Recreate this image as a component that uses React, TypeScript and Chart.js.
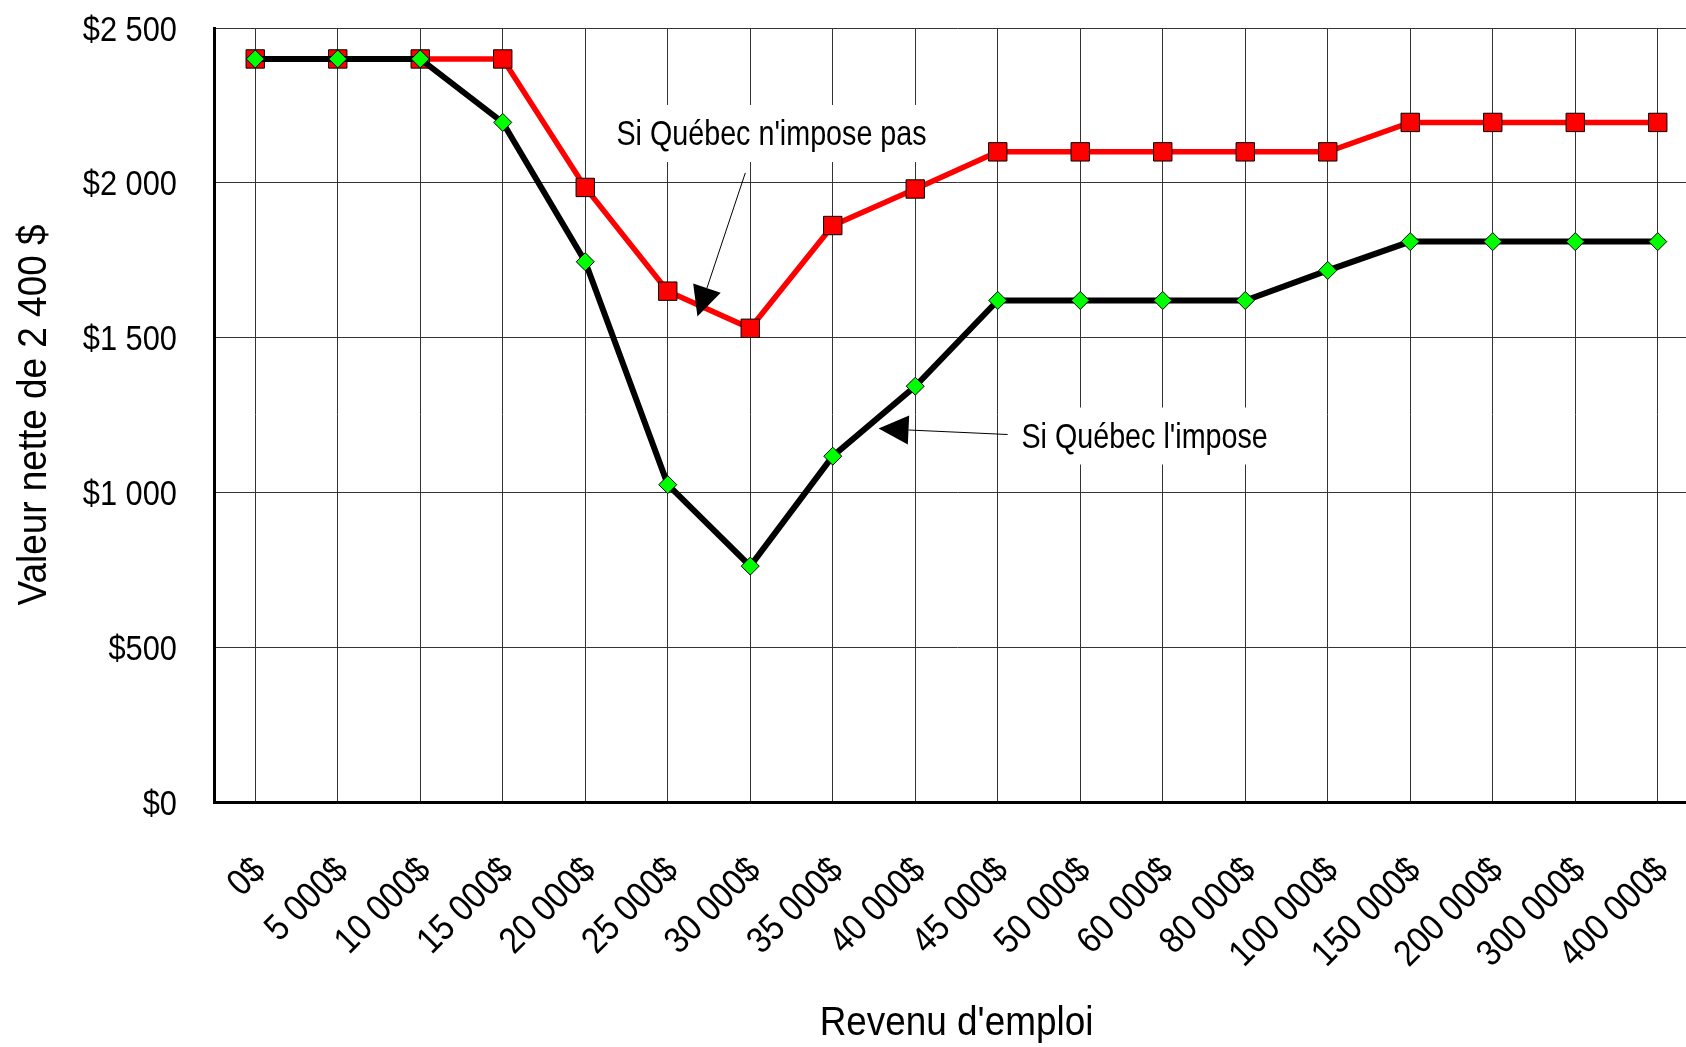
import React, { useEffect, useRef } from 'react';
import { Chart, registerables } from 'chart.js';

Chart.register(...registerables);

const FONT = "'Liberation Sans', Arial, sans-serif";

const categories = [
  '0$', '5 000$', '10 000$', '15 000$', '20 000$', '25 000$', '30 000$', '35 000$', '40 000$',
  '45 000$', '50 000$', '60 000$', '80 000$', '100 000$', '150 000$', '200 000$', '300 000$', '400 000$',
];

// Si Québec l'impose
const seriesImpose = [2400, 2400, 2400, 2195, 1745, 1025, 762, 1117, 1343, 1620, 1620, 1620, 1620, 1717, 1810, 1810, 1810, 1810];
// Si Québec n'impose pas
const seriesNoImpose = [2400, 2400, 2400, 2400, 1985, 1650, 1530, 1862, 1980, 2100, 2100, 2100, 2100, 2100, 2195, 2195, 2195, 2195];

const yMin = 0;
const yMax = 2500;
const yStep = 500;

const yTitle = 'Valeur nette de 2 400 $';
const xTitle = "Revenu d'emploi";

// annotation anchors in data space (category index, value)
const annotationTexts = ["Si Québec n'impose pas", "Si Québec l'impose"];
const annotationTextPos = [[6.258, 2122], [10.78, 1145]];
const annotationArrowFrom = [[5.94, 2032], [9.12, 1187]];
const annotationArrowTo = [[5.36, 1568], [7.555, 1206]];

function fmtMoney(v: number): string {
  if (v >= 1000) {
    return '$' + Math.floor(v / 1000) + ' ' + String(v % 1000).padStart(3, '0');
  }
  return '$' + v;
}

// draws text in a horizontally condensed face (Arial Narrow look)
function narrowText(
  ctx: CanvasRenderingContext2D,
  text: string,
  x: number,
  y: number,
  size: number,
  squeeze: number,
  align: CanvasTextAlign,
  rotation = 0,
) {
  ctx.save();
  ctx.translate(x, y);
  if (rotation) ctx.rotate(rotation);
  ctx.scale(squeeze, 1);
  ctx.font = `${size}px ${FONT}`;
  ctx.fillStyle = '#000000';
  ctx.textAlign = align;
  ctx.textBaseline = 'alphabetic';
  ctx.fillText(text, 0, 0);
  ctx.restore();
}

const textPlugin = {
  id: 'narrowTexts',
  afterDraw(chart: any) {
    const { ctx, chartArea } = chart;
    const xs = chart.scales.x;
    const ys = chart.scales.y;

    // annotations (white boxes hide the grid under the text)
    const aSize = 35;
    const aSq = 0.82;
    for (let i = 0; i < annotationTexts.length; i++) {
      const tx = xs.getPixelForValue(annotationTextPos[i][0]);
      const ty = ys.getPixelForValue(annotationTextPos[i][1]);
      ctx.save();
      ctx.font = `${aSize}px ${FONT}`;
      const w = ctx.measureText(annotationTexts[i]).width * aSq;
      ctx.restore();
      ctx.fillStyle = '#ffffff';
      ctx.fillRect(tx - w / 2 - 16, ty - 40, w + 32, 57);
      narrowText(ctx, annotationTexts[i], tx, ty, aSize, aSq, 'center');

      const x0 = xs.getPixelForValue(annotationArrowFrom[i][0]);
      const y0 = ys.getPixelForValue(annotationArrowFrom[i][1]);
      const x1 = xs.getPixelForValue(annotationArrowTo[i][0]);
      const y1 = ys.getPixelForValue(annotationArrowTo[i][1]);
      const ang = Math.atan2(y1 - y0, x1 - x0);
      const headLen = 30;
      const headHalf = 14.5;
      const bx = x1 - Math.cos(ang) * headLen;
      const by = y1 - Math.sin(ang) * headLen;
      ctx.save();
      ctx.strokeStyle = '#000000';
      ctx.fillStyle = '#000000';
      ctx.lineWidth = 1;
      ctx.beginPath();
      ctx.moveTo(x0, y0);
      ctx.lineTo(bx, by);
      ctx.stroke();
      ctx.beginPath();
      ctx.moveTo(x1, y1);
      ctx.lineTo(bx - Math.sin(ang) * headHalf, by + Math.cos(ang) * headHalf);
      ctx.lineTo(bx + Math.sin(ang) * headHalf, by - Math.cos(ang) * headHalf);
      ctx.closePath();
      ctx.fill();
      ctx.restore();
    }

    // y tick labels
    const ySize = 35;
    ys.ticks.forEach((t: any) => {
      const py = ys.getPixelForValue(t.value);
      narrowText(ctx, fmtMoney(Number(t.value)), ys.right - 37, py + 0.358 * ySize, ySize, 0.88, 'right');
    });

    // x tick labels, rotated 45°
    const xSize = 37;
    categories.forEach((lab, i) => {
      const px = xs.getPixelForTick(i);
      narrowText(ctx, lab, px + 12, xs.top + 70, xSize, 0.88, 'right', -Math.PI / 4);
    });

    // axis titles
    const tSize = 41;
    narrowText(ctx, xTitle, (chartArea.left + chartArea.right) / 2, 1035, tSize, 0.9, 'center');
    narrowText(
      ctx,
      yTitle,
      31 + 0.358 * tSize,
      (chartArea.top + chartArea.bottom) / 2,
      tSize,
      0.9,
      'center',
      -Math.PI / 2,
    );
  },
};

export default function App() {
  const canvasRef = useRef<HTMLCanvasElement | null>(null);

  useEffect(() => {
    const canvas = canvasRef.current;
    if (!canvas) return;
    const chart = new Chart(canvas, {
      type: 'line',
      data: {
        labels: categories,
        datasets: [
          {
            label: "Si Québec l'impose",
            data: seriesImpose,
            borderColor: '#000000',
            backgroundColor: '#00ff00',
            borderWidth: 6,
            tension: 0,
            pointStyle: 'rectRot',
            pointRadius: 9,
            pointBackgroundColor: '#00ff00',
            pointBorderColor: '#000000',
            pointBorderWidth: 1,
          },
          {
            label: "Si Québec n'impose pas",
            data: seriesNoImpose,
            borderColor: '#ff0000',
            backgroundColor: '#ff0000',
            borderWidth: 5.5,
            tension: 0,
            pointStyle: 'rect',
            pointRadius: 13,
            pointBackgroundColor: '#ff0000',
            pointBorderColor: '#000000',
            pointBorderWidth: 1,
          },
        ],
      },
      options: {
        responsive: false,
        animation: false,
        events: [],
        layout: { padding: { top: 28, right: 21, left: 0, bottom: 0 } },
        plugins: {
          legend: { display: false },
          tooltip: { enabled: false },
        },
        scales: {
          x: {
            offset: true,
            grid: { color: '#333333', lineWidth: 1, drawTicks: false },
            border: { color: '#000000', width: 3 },
            ticks: { display: false, autoSkip: false },
            title: { display: false },
            afterFit: (s: any) => {
              s.height = 245;
            },
          },
          y: {
            min: yMin,
            max: yMax,
            grid: { color: '#333333', lineWidth: 1, drawTicks: false },
            border: { color: '#000000', width: 3 },
            ticks: { display: false, stepSize: yStep },
            title: { display: false },
            afterFit: (s: any) => {
              s.width = 214;
            },
          },
        },
      },
      plugins: [textPlugin],
    });
    return () => chart.destroy();
  }, []);

  return (
    <div
      style={{
        position: 'fixed',
        left: 0,
        top: 0,
        width: '1686px',
        height: '1047px',
        overflow: 'hidden',
        background: '#ffffff',
      }}
    >
      <canvas ref={canvasRef} width={1720} height={1047} style={{ display: 'block' }} />
    </div>
  );
}
